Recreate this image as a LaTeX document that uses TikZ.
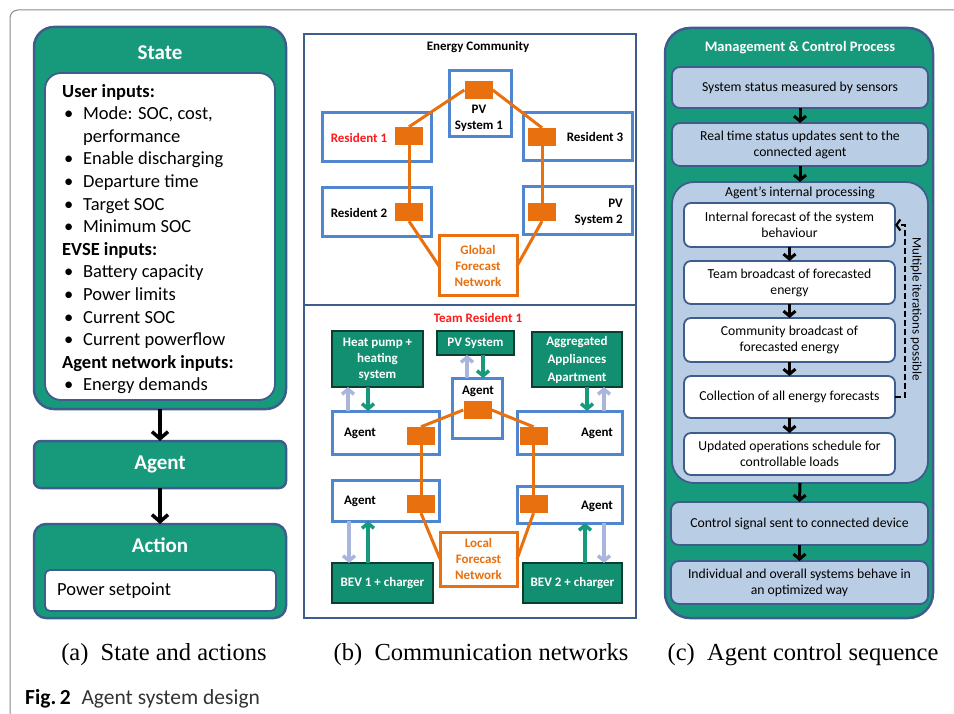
\documentclass[tikz,border=0pt]{standalone}
\usepackage{fontspec}
\setmainfont{Carlito}
\newfontfamily\capfont{Liberation Serif}
\usetikzlibrary{arrows.meta,calc}
\definecolor{tealc}{HTML}{179A7B}
\definecolor{tealdk}{HTML}{128F70}
\definecolor{bordb}{HTML}{3E5D8C}
\definecolor{nodeb}{HTML}{4F86CF}
\definecolor{orng}{HTML}{E8700E}
\definecolor{lblue}{HTML}{B9CDE5}
\definecolor{larrow}{HTML}{A9B5DD}
\definecolor{redt}{HTML}{FF1A1A}
\definecolor{framec}{HTML}{8A8A8A}
\definecolor{figtxt}{HTML}{333333}
\newcommand\boxat[7]{\node[#6,minimum width={#4-#2},minimum height={#5-#3},inner sep=0pt,outer sep=0pt] (#1) at ({(#2+#4)/2},{(#3+#5)/2}) {#7};}
\newcommand\bul{\makebox[21pt][l]{\hspace{2pt}\textbullet}}
\tikzset{
 fr/.style={draw=framec, line width=1pt},
 tealbox/.style={draw=bordb, line width=2.5pt, fill=tealc},
 whitebox/.style={draw=bordb, line width=1.8pt, fill=white},
 ttl/.style={text=white, font=\fontsize{21}{24}\selectfont\bfseries, inner sep=0pt},
 blkarr/.style={line width=3.5pt, -{Straight Barb[length=7pt,width=16pt]}},
 nbox/.style={draw=nodeb, line width=3pt, fill=white},
 osq/.style={fill=orng, minimum width=28pt, minimum height=18pt, inner sep=0pt},
 oline/.style={draw=orng, line width=3pt},
 obox/.style={draw=orng, line width=3pt, fill=white, text=orng, align=center, font=\fontsize{13}{16}\selectfont\bfseries},
 gbox/.style={draw=black!60!tealc, line width=1.2pt, fill=tealdk, text=white, align=center},
 btxt/.style={font=\fontsize{13}{16}\selectfont\bfseries, inner sep=0pt, align=center},
 larr/.style={draw=larrow, line width=3.5pt, -{Straight Barb[length=5pt,width=12pt]}},
 tarr/.style={draw=tealc, line width=3.5pt, -{Straight Barb[length=5pt,width=12pt]}},
 lbbox/.style={draw=bordb, line width=1.8pt, fill=lblue, align=center, font=\fontsize{13.7}{16}\selectfont},
 wbox/.style={draw=bordb, line width=1.8pt, fill=white, align=center, font=\fontsize{13.7}{16}\selectfont, rounded corners=7pt},
 sarr/.style={line width=3pt, -{Straight Barb[length=5pt,width=12pt]}},
}
\begin{document}
\begin{tikzpicture}[x=1pt,y=-1pt]
\useasboundingbox (0,0) rectangle (954,714);
\draw[fr, rounded corners=8pt] (954,10) -- (10,10) -- (10,714);
% ---------------- (a)
\boxat{state}{34}{27}{286}{409}{tealbox, rounded corners=20pt}{}
\node[ttl] (statet) at (160,53) {State};
\boxat{stin}{45}{73}{275}{400}{whitebox, rounded corners=16pt}{}
\node[anchor=north west, align=left, inner sep=0pt, font=\fontsize{18.5}{22.6}\selectfont] (stlist) at (62,84)
 {\textbf{User inputs:}\\
  \bul Mode: SOC, cost,\\
  \hspace*{21pt}performance\\
  \bul Enable discharging\\
  \bul Departure time\\
  \bul Target SOC\\
  \bul Minimum SOC\\
  \textbf{EVSE inputs:}\\
  \bul Battery capacity\\
  \bul Power limits\\
  \bul Current SOC\\
  \bul Current powerflow\\
  \textbf{Agent network inputs:}\\
  \bul Energy demands};
\boxat{agent}{34}{441}{286}{488}{tealbox, rounded corners=7pt, text=white, font=\fontsize{21}{24}\selectfont\bfseries}{Agent}
\boxat{action}{34}{524}{286}{618}{tealbox, rounded corners=12pt}{}
\node[ttl] (actiont) at (160,545) {Action};
\boxat{pset}{45}{570}{276}{611}{whitebox, rounded corners=5pt}{}
\node[anchor=west, inner sep=0pt, font=\fontsize{18.5}{22}\selectfont] (psett) at (57,591) {Power setpoint};
\draw[blkarr] (state.south) -- (agent.north);
\draw[blkarr] (agent.south) -- (action.north);
% ---------------- (b)
\boxat{panelb}{304}{34}{636}{618}{draw=bordb, line width=2.5pt}{}
\coordinate (divl) at (304,305); \coordinate (divr) at (636,305);
\draw[bordb, line width=2.5pt] (divl) -- (divr);
\node[btxt] (ectitle) at (478,47) {Energy Community};
\boxat{pv1}{449}{71}{511}{137}{nbox}{}
\boxat{res1}{322}{113}{431}{162}{nbox}{}
\boxat{res3}{523}{113}{632}{161}{nbox}{}
\boxat{res2}{322}{188}{431}{237}{nbox}{}
\boxat{pv2}{523}{187}{632}{235}{nbox}{}
\boxat{gfn}{439}{236}{517}{296}{obox}{Global\\Forecast\\Network}
\node[btxt] (pv1t) at (479,118) {PV\\System 1};
\node[btxt, text=redt] (res1t) at (359,138) {Resident 1};
\node[btxt] (res3t) at (595,137) {Resident 3};
\node[btxt] (res2t) at (359,213) {Resident 2};
\node[btxt, align=right, anchor=east] (pv2t) at (623,212) {PV\\System 2};
\node[osq] (pv1sq) at (478.5,90) {};
\node[osq] (r1sq) at (409,136) {};
\node[osq] (r3sq) at (542,137) {};
\node[osq] (r2sq) at (409,212) {};
\node[osq] (pv2sq) at (542,212) {};
\draw[oline] (r1sq.north) -- (pv1sq.west);
\draw[oline] (pv1sq.east) -- (r3sq.north);
\draw[oline] (r1sq.south) -- (r2sq.north);
\draw[oline] (r3sq.south) -- (pv2sq.north);
\draw[oline] (r2sq.south) -- (gfn.west);
\draw[oline] (pv2sq.south) -- (gfn.east);
% bottom
\node[btxt, text=redt] (teamt) at (478,318) {Team Resident 1};
\boxat{hp}{332}{331}{423}{387}{gbox, font=\fontsize{13}{16}\selectfont\bfseries}{Heat pump +\\heating\\system}
\boxat{pvs}{437}{331}{514}{355}{gbox, font=\fontsize{13}{16}\selectfont\bfseries}{PV System}
\boxat{agg}{532}{332}{622}{387}{gbox, font=\fontsize{13}{18}\selectfont\bfseries}{Aggregated\\Appliances\\Apartment}
\boxat{agc}{452}{378}{502}{438}{nbox}{}
\boxat{aglt}{332}{411}{439}{454}{nbox}{}
\boxat{agrt}{517}{411}{622}{454}{nbox}{}
\boxat{aglb}{332}{480}{439}{521}{nbox}{}
\boxat{agrb}{517}{486}{622}{523}{nbox}{}
\boxat{lfn}{440}{532}{517}{586}{obox}{Local\\Forecast\\Network}
\boxat{bev1}{332}{563}{433}{603}{gbox, font=\fontsize{13}{16}\selectfont\bfseries}{BEV 1 + charger}
\boxat{bev2}{523}{563}{622}{603}{gbox, font=\fontsize{13}{16}\selectfont\bfseries}{BEV 2 + charger}
\node[btxt] (agct) at (478,391) {Agent};
\node[btxt] (aglt-t) at (360,433) {Agent};
\node[btxt] (agrt-t) at (597,433) {Agent};
\node[btxt] (aglb-t) at (360,501) {Agent};
\node[btxt] (agrb-t) at (597,506) {Agent};
\node[osq] (agcsq) at (477.5,410) {};
\node[osq] (altsq) at (421,436) {};
\node[osq] (artsq) at (533.5,436) {};
\node[osq] (albsq) at (421,504) {};
\node[osq] (arbsq) at (533.5,504) {};
\draw[oline] (altsq.north) -- (agcsq.west);
\draw[oline] (agcsq.east) -- (artsq.north);
\draw[oline] (altsq.south) -- (albsq.north);
\draw[oline] (artsq.south) -- (arbsq.north);
\draw[oline] (albsq.south) -- (lfn.west);
\draw[oline] (arbsq.south) -- (lfn.east);
% device arrows
\draw[larr] ($(hp.south |- aglt.north)+(-29.5,0)$) -- ($(hp.south)+(-29.5,0)$);
\draw[tarr] ($(hp.south)+(-9.5,0)$) -- ($(hp.south |- aglt.north)+(-9.5,0)$);
\draw[larr] ($(pvs.south |- agc.north)+(-8.5,0)$) -- ($(pvs.south)+(-8.5,0)$);
\draw[tarr] ($(pvs.south)+(7.5,0)$) -- ($(pvs.south |- agc.north)+(7.5,0)$);
\draw[tarr] ($(agg.south)+(10,0)$) -- ($(agg.south |- agrt.north)+(10,0)$);
\draw[larr] ($(agg.south |- agrt.north)+(27,0)$) -- ($(agg.south)+(27,0)$);
\draw[larr] ($(bev1.north |- aglb.south)+(-33.5,0)$) -- ($(bev1.north)+(-33.5,0)$);
\draw[tarr] ($(bev1.north)+(-14.5,0)$) -- ($(bev1.north |- aglb.south)+(-14.5,0)$);
\draw[tarr] ($(bev2.north)+(12.5,0)$) -- ($(bev2.north |- agrb.south)+(12.5,0)$);
\draw[larr] ($(bev2.north |- agrb.south)+(31.5,0)$) -- ($(bev2.north)+(31.5,0)$);
% ---------------- (c)
\boxat{mcp}{665}{28}{933}{618}{tealbox, rounded corners=25pt}{}
\node[text=white, inner sep=0pt, font=\fontsize{14.5}{17}\selectfont\bfseries] (mcpt) at (800,48) {Management \& Control Process};
\boxat{b1}{672}{67}{928}{108}{lbbox, rounded corners=8pt}{System status measured by sensors}
\boxat{b2}{672}{123}{928}{166}{lbbox, rounded corners=8pt}{Real time status updates sent to the\\connected agent}
\boxat{cont}{672}{182}{928}{483}{lbbox, rounded corners=22pt}{}
\node[inner sep=0pt, font=\fontsize{13.7}{16}\selectfont] (contt) at (800,193) {Agent’s internal processing};
\boxat{i1}{684}{203}{895}{247}{wbox}{Internal forecast of the system\\behaviour}
\boxat{i2}{684}{261}{895}{304}{wbox}{Team broadcast of forecasted\\energy}
\boxat{i3}{684}{318}{895}{362}{wbox}{Community broadcast of\\forecasted energy}
\boxat{i4}{684}{376}{895}{418}{wbox}{Collection of all energy forecasts}
\boxat{i5}{684}{433}{895}{475}{wbox}{Updated operations schedule for\\controllable loads}
\boxat{b6}{671}{502}{928}{545}{lbbox, rounded corners=8pt}{Control signal sent to connected device}
\boxat{b7}{671}{561}{928}{604}{lbbox, rounded corners=8pt}{Individual and overall systems behave in\\an optimized way}
\draw[sarr] (b1.south) -- (b2.north);
\draw[sarr] (b2.south) -- (cont.north);
\draw[sarr] (i1.south) -- (i2.north);
\draw[sarr] (i2.south) -- (i3.north);
\draw[sarr] (i3.south) -- (i4.north);
\draw[sarr] (i4.south) -- (i5.north);
\draw[sarr] (cont.south) -- (b6.north);
\draw[sarr] (b6.south) -- (b7.north);
\draw[line width=2.2pt, dash pattern=on 6pt off 3pt, -{Straight Barb[length=4pt,width=11pt]}] (i4.east) -- ++(10,0) |- (i1.east);
\node[rotate=-90, inner sep=0pt, font=\fontsize{13}{16}\selectfont] (multi) at (916,309) {Multiple iterations possible};
% ---------------- captions
\node[inner sep=0pt, font=\capfont\fontsize{24.5}{28}\selectfont] (capa) at (164,655) {(a)\hspace{0.5em}State and actions};
\node[inner sep=0pt, font=\capfont\fontsize{24.5}{28}\selectfont] (capb) at (481,655) {(b)\hspace{0.5em}Communication networks};
\node[inner sep=0pt, font=\capfont\fontsize{24.5}{28}\selectfont] (capc) at (803,655) {(c)\hspace{0.5em}Agent control sequence};
\node[anchor=base west, inner sep=0pt, text=figtxt, font=\fontsize{21.5}{24}\selectfont] (fig) at (25,704) {\textbf{\color{black}Fig.\,2}\hspace{0.5em}Agent system design};
\end{tikzpicture}
\end{document}
